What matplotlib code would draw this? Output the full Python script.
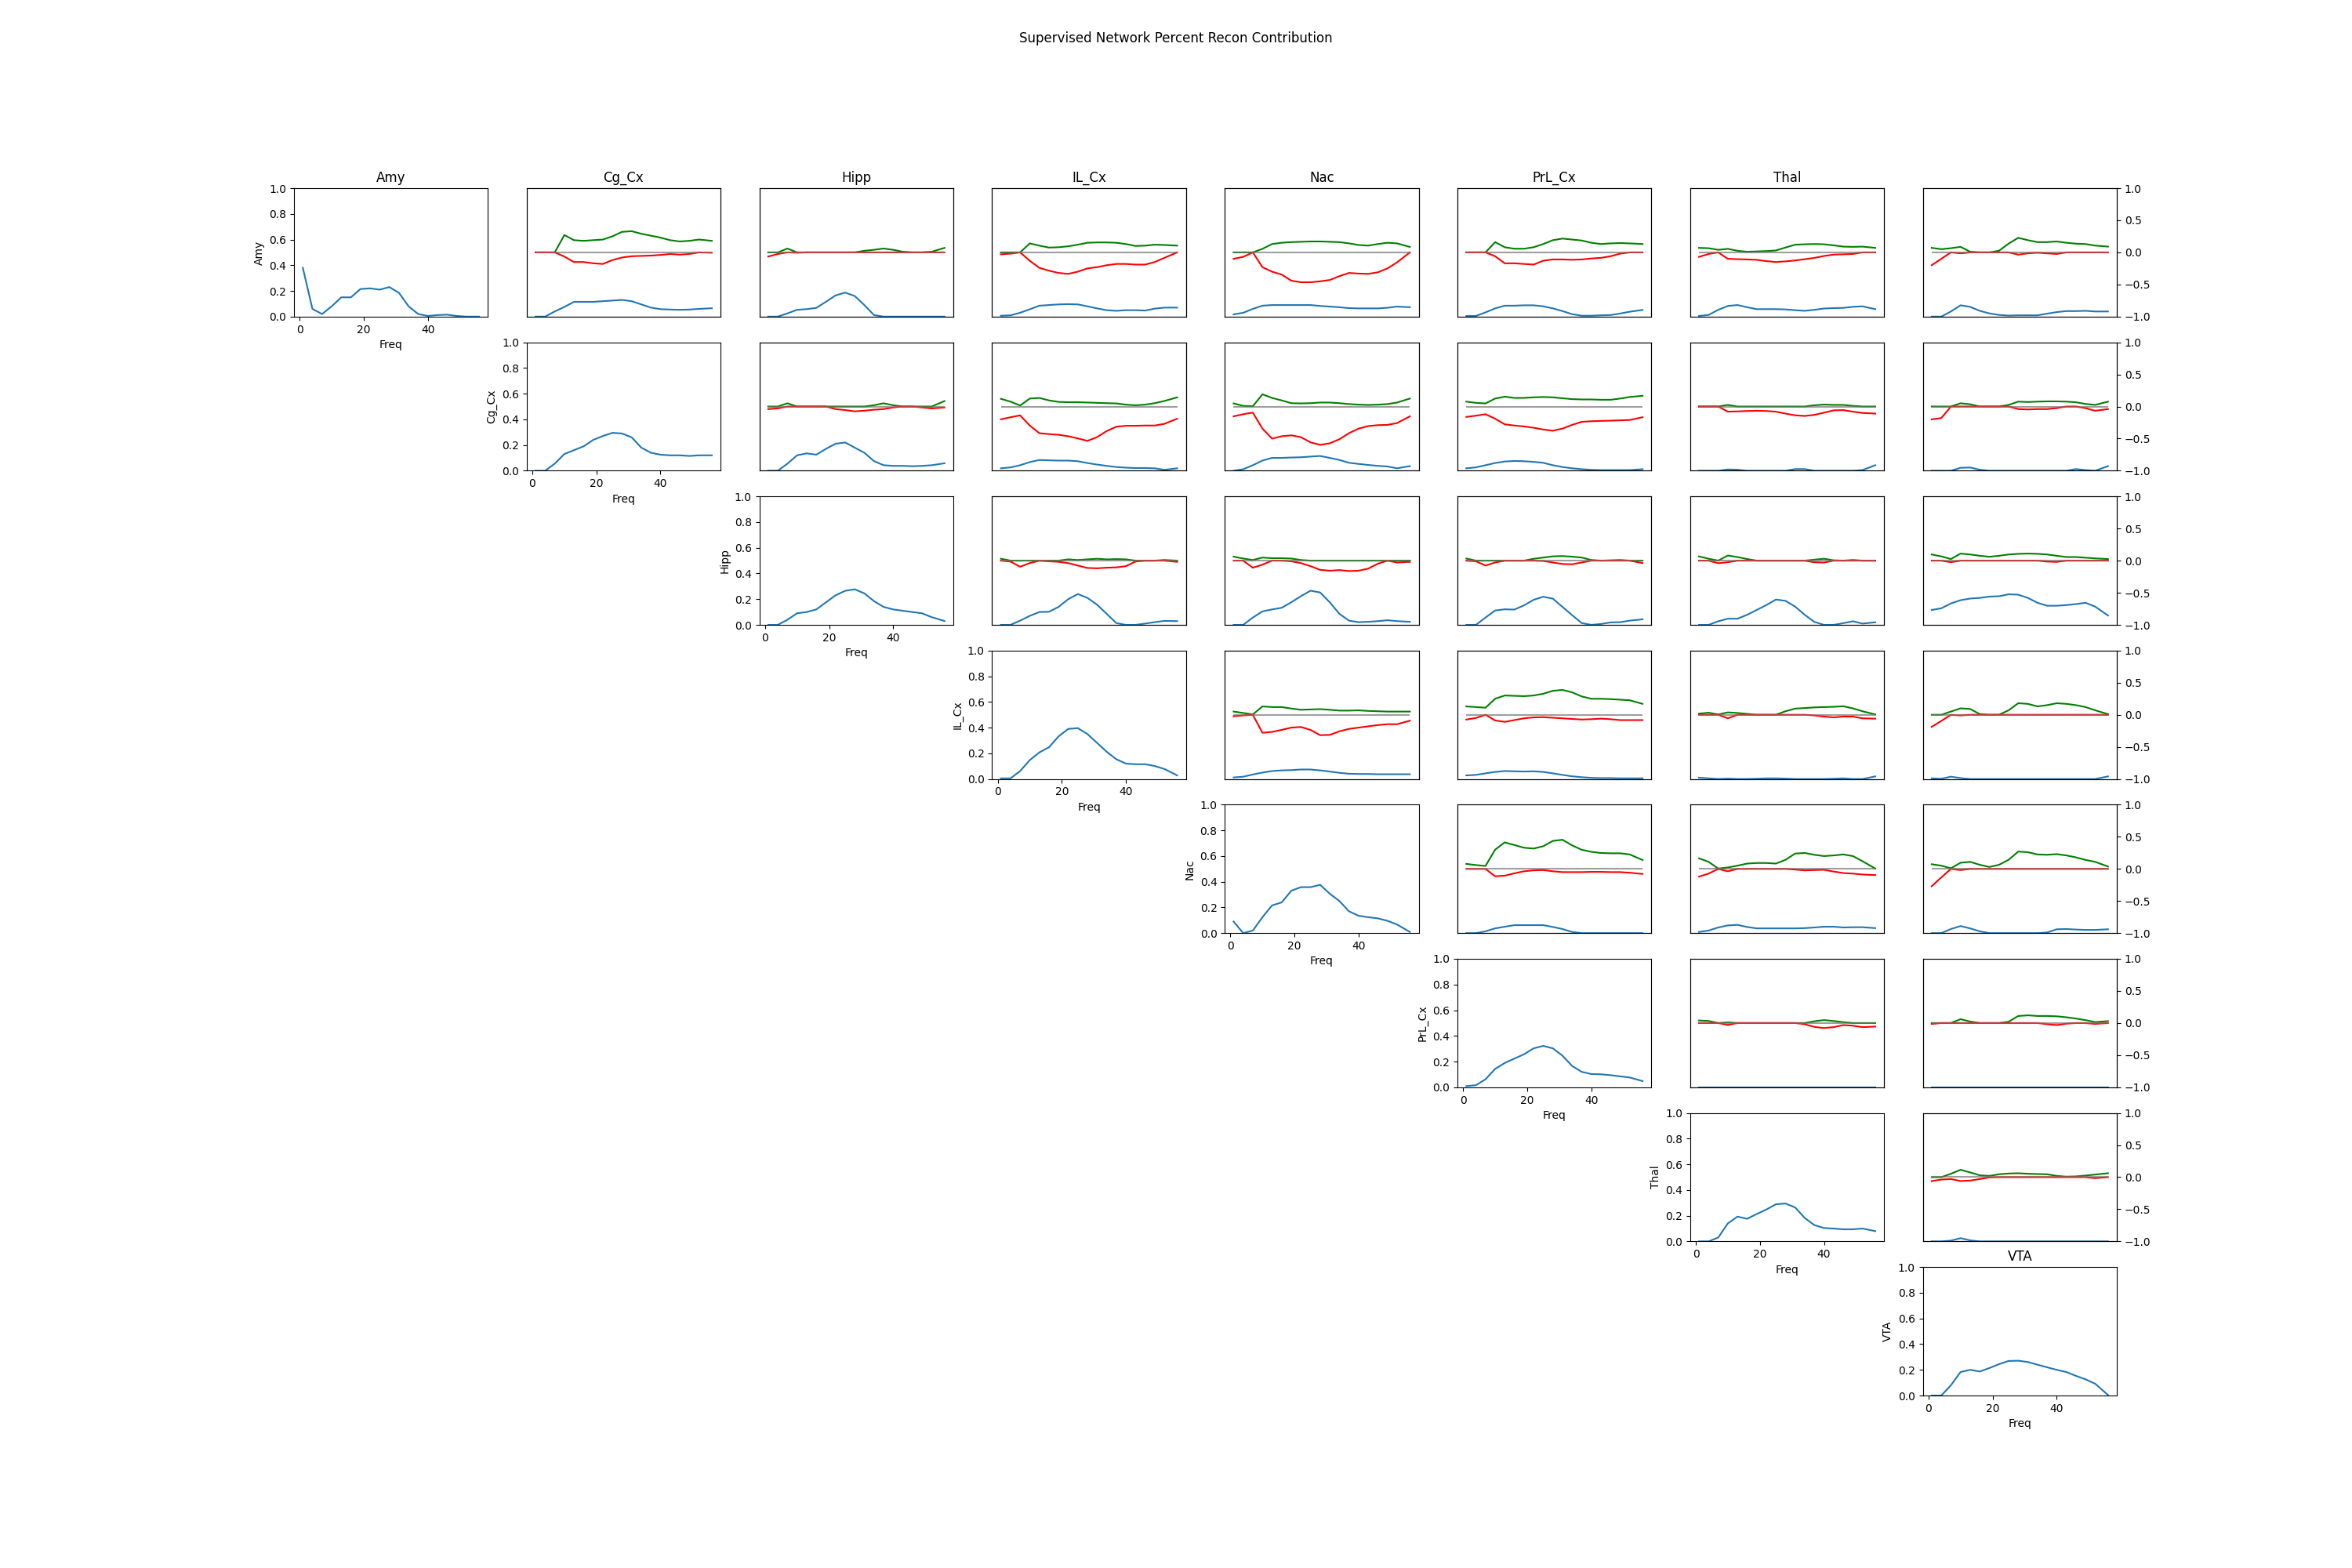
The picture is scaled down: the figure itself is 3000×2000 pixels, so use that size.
import numpy as np
import matplotlib
matplotlib.use('Agg')
import matplotlib.pyplot as plt

names = ['Amy', 'Cg_Cx', 'Hipp', 'IL_Cx', 'Nac', 'PrL_Cx', 'Thal', 'VTA']
freq = [1, 4, 7, 10, 13, 16, 19, 22, 25, 28, 31, 34, 37, 40, 43, 46, 49, 52, 56]

# diagonal: per-region power
amy_power = [0.38, 0.06, 0.02, 0.08, 0.15, 0.15, 0.215, 0.22, 0.21, 0.23, 0.185, 0.08, 0.02, 0.005, 0.012, 0.015, 0.005, 0.0, 0.0]
cg_cx_power = [0, 0, 0.055, 0.13, 0.16, 0.19, 0.24, 0.27, 0.295, 0.29, 0.26, 0.18, 0.14, 0.125, 0.12, 0.12, 0.115, 0.12, 0.12]
hipp_power = [0, 0, 0.04, 0.09, 0.1, 0.12, 0.175, 0.23, 0.265, 0.277, 0.245, 0.185, 0.14, 0.12, 0.11, 0.1, 0.09, 0.06, 0.03]
il_cx_power = [0.005, 0.005, 0.062, 0.147, 0.207, 0.247, 0.332, 0.39, 0.396, 0.35, 0.281, 0.212, 0.154, 0.12, 0.115, 0.115, 0.101, 0.078, 0.028]
nac_power = [0.09, 0.0, 0.02, 0.124, 0.216, 0.239, 0.33, 0.358, 0.358, 0.376, 0.307, 0.25, 0.17, 0.135, 0.124, 0.115, 0.096, 0.067, 0.009]
prl_cx_power = [0.009, 0.016, 0.062, 0.143, 0.189, 0.223, 0.257, 0.303, 0.322, 0.303, 0.246, 0.166, 0.12, 0.103, 0.101, 0.094, 0.085, 0.076, 0.048]
thal_power = [0, 0, 0.03, 0.14, 0.193, 0.176, 0.213, 0.248, 0.289, 0.295, 0.264, 0.182, 0.127, 0.104, 0.1, 0.094, 0.094, 0.1, 0.08]
vta_power = [0, 0, 0.08, 0.183, 0.2, 0.187, 0.214, 0.244, 0.269, 0.271, 0.261, 0.24, 0.22, 0.2, 0.183, 0.153, 0.126, 0.092, 0.004]

# off diagonal: coh (blue, 0..1), pos (green) / neg (red) contribution (-1..1)
amy_cg_cx_coh = [0, 0, 0.04, 0.075, 0.115, 0.115, 0.115, 0.12, 0.125, 0.13, 0.12, 0.095, 0.07, 0.058, 0.055, 0.053, 0.055, 0.06, 0.065]
amy_cg_cx_pos = [0, 0, 0, 0.27, 0.19, 0.18, 0.19, 0.2, 0.25, 0.32, 0.33, 0.29, 0.26, 0.23, 0.19, 0.17, 0.18, 0.2, 0.18]
amy_cg_cx_neg = [0, 0, 0, -0.065, -0.15, -0.15, -0.17, -0.18, -0.12, -0.08, -0.06, -0.055, -0.05, -0.04, -0.025, -0.035, -0.025, 0, -0.005]

amy_hipp_coh = [0, 0, 0.025, 0.053, 0.058, 0.068, 0.115, 0.165, 0.187, 0.16, 0.09, 0.012, 0, 0, 0, 0, 0, 0, 0]
amy_hipp_pos = [0, 0, 0.06, 0, 0, 0, 0, 0, 0, 0, 0.025, 0.04, 0.06, 0.04, 0.01, 0, 0, 0.01, 0.07]
amy_hipp_neg = [-0.065, -0.025, 0, -0.005, 0, 0, 0, 0, 0, 0, 0, 0, 0, 0, 0, 0, 0, 0, 0]

amy_il_cx_coh = [0.007, 0.01, 0.03, 0.057, 0.085, 0.09, 0.095, 0.097, 0.095, 0.08, 0.064, 0.05, 0.045, 0.05, 0.05, 0.047, 0.062, 0.07, 0.07]
amy_il_cx_pos = [0, 0, 0, 0.14, 0.105, 0.075, 0.08, 0.095, 0.12, 0.15, 0.155, 0.155, 0.15, 0.13, 0.1, 0.105, 0.12, 0.115, 0.105]
amy_il_cx_neg = [-0.03, -0.02, 0, -0.13, -0.24, -0.285, -0.32, -0.335, -0.3, -0.25, -0.23, -0.2, -0.18, -0.18, -0.19, -0.19, -0.15, -0.085, 0]

amy_nac_coh = [0.017, 0.03, 0.06, 0.085, 0.09, 0.09, 0.09, 0.09, 0.09, 0.083, 0.078, 0.073, 0.066, 0.064, 0.064, 0.064, 0.069, 0.078, 0.073]
amy_nac_pos = [0, 0, 0, 0.055, 0.13, 0.15, 0.16, 0.165, 0.17, 0.17, 0.165, 0.16, 0.14, 0.115, 0.105, 0.13, 0.15, 0.14, 0.085]
amy_nac_neg = [-0.1, -0.07, 0, -0.23, -0.3, -0.345, -0.44, -0.465, -0.465, -0.45, -0.43, -0.37, -0.32, -0.33, -0.335, -0.31, -0.25, -0.155, 0]

amy_prl_cx_coh = [0.005, 0.005, 0.033, 0.064, 0.085, 0.085, 0.088, 0.088, 0.08, 0.064, 0.043, 0.019, 0.007, 0.007, 0.01, 0.012, 0.024, 0.038, 0.052]
amy_prl_cx_pos = [0, 0, 0, 0.16, 0.08, 0.057, 0.057, 0.08, 0.13, 0.19, 0.215, 0.2, 0.185, 0.15, 0.13, 0.14, 0.145, 0.14, 0.13]
amy_prl_cx_neg = [0, 0, 0, -0.06, -0.17, -0.17, -0.18, -0.19, -0.13, -0.11, -0.11, -0.115, -0.11, -0.095, -0.085, -0.06, -0.02, 0, 0]

amy_thal_coh = [0.005, 0.013, 0.053, 0.083, 0.09, 0.073, 0.058, 0.058, 0.058, 0.056, 0.05, 0.045, 0.053, 0.063, 0.066, 0.068, 0.076, 0.08, 0.058]
amy_thal_pos = [0.07, 0.065, 0.04, 0.055, 0.025, 0.01, 0.015, 0.02, 0.03, 0.076, 0.12, 0.126, 0.13, 0.126, 0.11, 0.09, 0.086, 0.09, 0.07]
amy_thal_neg = [-0.07, -0.025, 0, -0.1, -0.106, -0.11, -0.116, -0.136, -0.15, -0.14, -0.126, -0.106, -0.086, -0.056, -0.035, -0.03, -0.025, 0, 0]

amy_vta_coh = [0, 0, 0.04, 0.088, 0.076, 0.045, 0.025, 0.013, 0.008, 0.01, 0.01, 0.01, 0.023, 0.035, 0.043, 0.043, 0.045, 0.04, 0.04]
amy_vta_pos = [0.07, 0.05, 0.065, 0.086, 0.01, 0, 0, 0.025, 0.136, 0.227, 0.19, 0.16, 0.16, 0.17, 0.15, 0.136, 0.13, 0.106, 0.09]
amy_vta_neg = [-0.2, -0.1, 0, -0.015, 0, 0, 0, 0, 0, -0.035, -0.015, -0.005, -0.015, -0.025, 0, 0, 0, 0, 0]

cg_cx_hipp_coh = [0, 0, 0.055, 0.12, 0.135, 0.125, 0.17, 0.21, 0.22, 0.18, 0.14, 0.075, 0.043, 0.038, 0.038, 0.035, 0.038, 0.043, 0.058]
cg_cx_hipp_pos = [0, 0, 0.05, 0, 0, 0, 0, 0, 0, 0, 0, 0.02, 0.05, 0.02, 0, 0, 0, 0, 0.085]
cg_cx_hipp_neg = [-0.04, -0.03, 0, 0, 0, 0, 0, -0.04, -0.055, -0.075, -0.065, -0.05, -0.04, -0.015, 0, 0, -0.015, -0.03, -0.015]

cg_cx_il_cx_coh = [0.019, 0.026, 0.043, 0.067, 0.084, 0.081, 0.079, 0.079, 0.074, 0.06, 0.048, 0.038, 0.029, 0.024, 0.021, 0.021, 0.019, 0.007, 0.019]
cg_cx_il_cx_pos = [0.12, 0.076, 0.015, 0.124, 0.134, 0.095, 0.072, 0.067, 0.067, 0.062, 0.057, 0.052, 0.048, 0.029, 0.019, 0.029, 0.052, 0.086, 0.143]
cg_cx_il_cx_neg = [-0.2, -0.167, -0.138, -0.296, -0.415, -0.43, -0.44, -0.463, -0.496, -0.535, -0.477, -0.382, -0.315, -0.3, -0.3, -0.296, -0.296, -0.27, -0.19]

cg_cx_nac_coh = [0, 0.012, 0.043, 0.079, 0.1, 0.1, 0.103, 0.105, 0.11, 0.115, 0.1, 0.084, 0.062, 0.053, 0.045, 0.038, 0.033, 0.019, 0.036]
cg_cx_nac_pos = [0.048, 0.01, 0.005, 0.19, 0.134, 0.095, 0.052, 0.048, 0.052, 0.062, 0.062, 0.052, 0.038, 0.029, 0.024, 0.029, 0.038, 0.062, 0.124]
cg_cx_nac_neg = [-0.153, -0.12, -0.095, -0.344, -0.5, -0.463, -0.449, -0.477, -0.558, -0.597, -0.573, -0.51, -0.415, -0.344, -0.305, -0.29, -0.286, -0.258, -0.153]

cg_cx_prl_cx_coh = [0.019, 0.026, 0.043, 0.06, 0.072, 0.076, 0.074, 0.069, 0.062, 0.043, 0.029, 0.019, 0.012, 0.007, 0.005, 0.005, 0.005, 0.005, 0.012]
cg_cx_prl_cx_pos = [0.076, 0.057, 0.048, 0.124, 0.153, 0.134, 0.134, 0.143, 0.148, 0.143, 0.129, 0.115, 0.11, 0.11, 0.105, 0.105, 0.124, 0.148, 0.167]
cg_cx_prl_cx_neg = [-0.162, -0.143, -0.12, -0.19, -0.277, -0.296, -0.31, -0.33, -0.358, -0.377, -0.344, -0.286, -0.239, -0.229, -0.224, -0.22, -0.215, -0.21, -0.167]

cg_cx_thal_coh = [0, 0, 0, 0.01, 0.008, 0, 0, 0, 0, 0, 0.013, 0.013, 0, 0, 0, 0, 0, 0.005, 0.043]
cg_cx_thal_pos = [0, 0, 0, 0.025, 0, 0, 0, 0, 0, 0, 0, 0, 0.02, 0.03, 0.025, 0.025, 0.01, 0, 0]
cg_cx_thal_neg = [0, 0, 0, -0.08, -0.076, -0.07, -0.066, -0.07, -0.08, -0.11, -0.137, -0.147, -0.13, -0.096, -0.06, -0.056, -0.08, -0.1, -0.11]

cg_cx_vta_coh = [0, 0, 0, 0.023, 0.025, 0.008, 0, 0, 0, 0, 0, 0, 0, 0, 0, 0.013, 0.005, 0, 0.036]
cg_cx_vta_pos = [0, 0, 0, 0.05, 0.035, 0, 0, 0, 0.025, 0.076, 0.07, 0.076, 0.08, 0.08, 0.076, 0.066, 0.04, 0.025, 0.076]
cg_cx_vta_neg = [-0.2, -0.18, 0, 0, 0, 0, 0, 0, 0, -0.04, -0.046, -0.04, -0.04, -0.025, 0, 0, -0.025, -0.066, -0.04]

hipp_il_cx_coh = [0, 0, 0.033, 0.07, 0.1, 0.102, 0.14, 0.2, 0.24, 0.21, 0.157, 0.086, 0.014, 0, 0, 0.01, 0.021, 0.031, 0.029]
hipp_il_cx_pos = [0.03, 0, 0, 0, 0, 0, 0, 0.02, 0.01, 0.02, 0.03, 0.02, 0.024, 0.02, 0, 0, 0, 0.01, 0]
hipp_il_cx_neg = [0, -0.014, -0.095, -0.038, 0, -0.01, -0.019, -0.038, -0.076, -0.114, -0.119, -0.11, -0.105, -0.086, -0.014, 0, 0, 0, -0.019]

hipp_nac_coh = [0, 0, 0.057, 0.105, 0.12, 0.133, 0.176, 0.223, 0.266, 0.252, 0.176, 0.086, 0.033, 0.021, 0.024, 0.029, 0.036, 0.029, 0.024]
hipp_nac_pos = [0.062, 0.033, 0.01, 0.048, 0.038, 0.038, 0.033, 0.01, 0, 0, 0, 0, 0, 0, 0, 0, 0, 0, 0]
hipp_nac_neg = [0, 0, -0.11, -0.062, 0, 0, -0.01, -0.038, -0.086, -0.143, -0.157, -0.147, -0.162, -0.157, -0.124, -0.048, 0, -0.029, -0.019]

hipp_prl_cx_coh = [0, 0, 0.057, 0.112, 0.121, 0.119, 0.152, 0.195, 0.219, 0.204, 0.14, 0.076, 0.014, 0, 0.007, 0.019, 0.021, 0.033, 0.043]
hipp_prl_cx_pos = [0.033, 0, 0, 0, 0, 0, 0, 0.029, 0.048, 0.067, 0.071, 0.062, 0.048, 0.01, 0, 0.005, 0.01, 0, 0]
hipp_prl_cx_neg = [0, -0.01, -0.076, -0.029, 0, 0, 0, 0, -0.005, -0.029, -0.052, -0.057, -0.029, 0, 0, 0, 0, 0, -0.038]

hipp_thal_coh = [0, 0, 0.028, 0.048, 0.048, 0.078, 0.116, 0.154, 0.197, 0.187, 0.142, 0.078, 0.023, 0, 0, 0.013, 0.028, 0.01, 0.02]
hipp_thal_pos = [0.066, 0.03, 0, 0.08, 0.056, 0.025, 0, 0, 0, 0, 0, 0, 0.015, 0.03, 0.005, 0, 0.01, 0, 0]
hipp_thal_neg = [0, 0, -0.04, -0.025, 0, 0, 0, 0, 0, 0, 0, 0, -0.025, -0.03, 0, 0, 0, 0, 0]

hipp_vta_coh = [0.116, 0.129, 0.167, 0.192, 0.205, 0.21, 0.22, 0.223, 0.238, 0.235, 0.21, 0.172, 0.149, 0.149, 0.154, 0.162, 0.172, 0.142, 0.073]
hipp_vta_pos = [0.096, 0.066, 0.025, 0.11, 0.096, 0.076, 0.06, 0.076, 0.096, 0.106, 0.11, 0.106, 0.096, 0.076, 0.056, 0.056, 0.046, 0.035, 0.025]
hipp_vta_neg = [0, 0, -0.025, 0, 0, 0, 0, 0, 0, 0, 0, 0, -0.015, -0.02, 0, 0, 0, 0, 0]

il_cx_nac_coh = [0.012, 0.018, 0.035, 0.05, 0.062, 0.067, 0.069, 0.074, 0.074, 0.067, 0.058, 0.048, 0.041, 0.039, 0.039, 0.037, 0.037, 0.037, 0.037]
il_cx_nac_pos = [0.05, 0.028, 0.005, 0.13, 0.12, 0.12, 0.097, 0.078, 0.083, 0.088, 0.078, 0.065, 0.065, 0.069, 0.06, 0.055, 0.05, 0.05, 0.05]
il_cx_nac_neg = [-0.023, -0.01, 0, -0.28, -0.267, -0.235, -0.2, -0.19, -0.235, -0.318, -0.313, -0.258, -0.22, -0.2, -0.18, -0.16, -0.147, -0.147, -0.092]

il_cx_prl_cx_coh = [0.028, 0.032, 0.044, 0.055, 0.062, 0.06, 0.058, 0.06, 0.055, 0.044, 0.032, 0.021, 0.014, 0.009, 0.007, 0.007, 0.005, 0.005, 0.005]
il_cx_prl_cx_pos = [0.13, 0.12, 0.11, 0.25, 0.3, 0.295, 0.29, 0.3, 0.327, 0.373, 0.387, 0.35, 0.286, 0.249, 0.249, 0.244, 0.235, 0.226, 0.17]
il_cx_prl_cx_neg = [-0.074, -0.05, 0, -0.088, -0.11, -0.083, -0.055, -0.041, -0.037, -0.046, -0.055, -0.065, -0.074, -0.069, -0.06, -0.069, -0.083, -0.083, -0.083]

il_cx_thal_coh = [0.01, 0.005, 0, 0.003, 0, 0, 0.002, 0.005, 0.005, 0.003, 0, 0, 0, 0, 0.002, 0.005, 0, 0, 0.02]
il_cx_thal_pos = [0.018, 0.032, 0.005, 0.037, 0.028, 0.014, 0, 0, 0, 0.055, 0.096, 0.105, 0.115, 0.12, 0.124, 0.133, 0.1, 0.055, 0.005]
il_cx_thal_neg = [0, 0, 0, -0.055, 0, 0, 0, 0, 0, 0, 0, 0, -0.01, -0.028, -0.041, -0.028, -0.028, -0.055, -0.06]

il_cx_vta_coh = [0.005, 0.002, 0.018, 0.007, 0, 0, 0, 0, 0, 0, 0, 0, 0, 0, 0, 0, 0, 0, 0.02]
il_cx_vta_pos = [0, 0, 0.05, 0.1, 0.09, 0.01, 0, 0, 0.07, 0.18, 0.17, 0.13, 0.15, 0.18, 0.17, 0.15, 0.12, 0.07, 0.01]
il_cx_vta_neg = [-0.188, -0.096, 0, -0.01, 0, 0, 0, 0, 0, 0, 0, 0, 0, 0, 0, 0, 0, 0, 0]

nac_prl_cx_coh = [0, 0, 0.014, 0.037, 0.05, 0.062, 0.062, 0.062, 0.062, 0.048, 0.032, 0.009, 0, 0, 0, 0, 0, 0, 0]
nac_prl_cx_pos = [0.078, 0.06, 0.046, 0.3, 0.413, 0.372, 0.33, 0.317, 0.353, 0.436, 0.454, 0.367, 0.298, 0.266, 0.248, 0.243, 0.243, 0.225, 0.138]
nac_prl_cx_neg = [0, 0, 0, -0.115, -0.105, -0.069, -0.037, -0.023, -0.018, -0.037, -0.05, -0.05, -0.05, -0.046, -0.046, -0.05, -0.05, -0.06, -0.078]

nac_thal_coh = [0.009, 0.02, 0.044, 0.06, 0.064, 0.048, 0.037, 0.037, 0.037, 0.037, 0.037, 0.039, 0.044, 0.05, 0.05, 0.044, 0.046, 0.046, 0.039]
nac_thal_pos = [0.165, 0.11, 0.005, 0.023, 0.05, 0.083, 0.092, 0.092, 0.083, 0.142, 0.239, 0.248, 0.22, 0.2, 0.21, 0.225, 0.2, 0.12, 0.005]
nac_thal_neg = [-0.12, -0.073, 0, -0.037, 0, 0, 0, 0, 0, 0, -0.01, -0.023, -0.018, -0.014, -0.041, -0.064, -0.073, -0.087, -0.096]

nac_vta_coh = [0, 0, 0.032, 0.055, 0.037, 0.014, 0, 0, 0, 0, 0, 0, 0.005, 0.03, 0.032, 0.028, 0.025, 0.025, 0.03]
nac_vta_pos = [0.073, 0.05, 0.01, 0.096, 0.11, 0.064, 0.03, 0.064, 0.142, 0.27, 0.26, 0.225, 0.22, 0.23, 0.21, 0.18, 0.14, 0.11, 0.037]
nac_vta_neg = [-0.27, -0.133, 0, -0.018, 0, 0, 0, 0, 0, 0, 0, 0, 0, 0, 0, 0, 0, 0, 0]

prl_cx_thal_coh = [0] * 19
prl_cx_thal_pos = [0.04, 0.032, 0, 0.01, 0, 0, 0, 0, 0, 0, 0, 0, 0.028, 0.046, 0.032, 0.014, 0, 0, 0]
prl_cx_thal_neg = [0, 0, 0, -0.03, 0, 0, 0, 0, 0, 0, 0, -0.018, -0.06, -0.078, -0.064, -0.032, -0.041, -0.064, -0.055]

prl_cx_vta_coh = [0] * 19
prl_cx_vta_pos = [0, 0, 0, 0.06, 0.023, 0, 0, 0, 0.02, 0.11, 0.12, 0.11, 0.11, 0.105, 0.09, 0.07, 0.045, 0.015, 0.03]
prl_cx_vta_neg = [-0.014, 0, 0, 0, 0, 0, 0, 0, 0, 0, 0, 0, -0.018, -0.032, -0.01, 0, 0, -0.014, 0]

thal_vta_coh = [0, 0, 0.006, 0.025, 0.008, 0, 0, 0, 0, 0, 0, 0, 0, 0, 0, 0, 0, 0, 0]
thal_vta_pos = [0, 0, 0.053, 0.115, 0.074, 0.029, 0.02, 0.045, 0.057, 0.061, 0.053, 0.049, 0.045, 0.02, 0.008, 0.012, 0.025, 0.041, 0.061]
thal_vta_neg = [-0.061, -0.037, -0.029, -0.06, -0.053, -0.029, -0.004, 0, 0, 0, 0, 0, 0, 0, 0, 0, 0, -0.016, 0]

power = {
    'Amy': amy_power, 'Cg_Cx': cg_cx_power, 'Hipp': hipp_power, 'IL_Cx': il_cx_power,
    'Nac': nac_power, 'PrL_Cx': prl_cx_power, 'Thal': thal_power, 'VTA': vta_power,
}
g = globals()
pairs = {}
for i in range(len(names)):
    for j in range(i + 1, len(names)):
        key = names[i].lower() + '_' + names[j].lower()
        pairs[(i, j)] = (g[key + '_coh'], g[key + '_pos'], g[key + '_neg'])

n = len(names)
fig, axes = plt.subplots(n, n, figsize=(30, 20))
for i in range(n):
    for j in range(n):
        ax = axes[i, j]
        if j < i:
            ax.axis('off')
        elif i == j:
            ax.plot(freq, power[names[i]])
            ax.set_ylim(0, 1)
            ax.set_xlabel('Freq')
            ax.set_ylabel(names[i])
        else:
            coh, pos, neg = pairs[(i, j)]
            ax.plot(freq, coh)
            ax.set_ylim(0, 1)
            ax.set_xticks([])
            ax.set_yticks([])
            ax2 = ax.twinx()
            # zero line: one copy under the curves, one half-transparent on top
            ax2.hlines(0, freq[0], freq[-1], color='gray', alpha=0.5, linewidth=1.5, zorder=1)
            ax2.plot(freq, pos, color='green')
            ax2.plot(freq, neg, color='red')
            ax2.hlines(0, freq[0], freq[-1], color='gray', alpha=0.5, linewidth=1.5, zorder=3)
            ax2.set_ylim(-1, 1)
            if j != n - 1:
                ax2.set_yticks([])

for j in range(n - 1):
    axes[0, j].set_title(names[j])
axes[n - 1, n - 1].set_title(names[n - 1])

fig.suptitle('Supervised Network Percent Recon Contribution')
plt.savefig('out.png')
